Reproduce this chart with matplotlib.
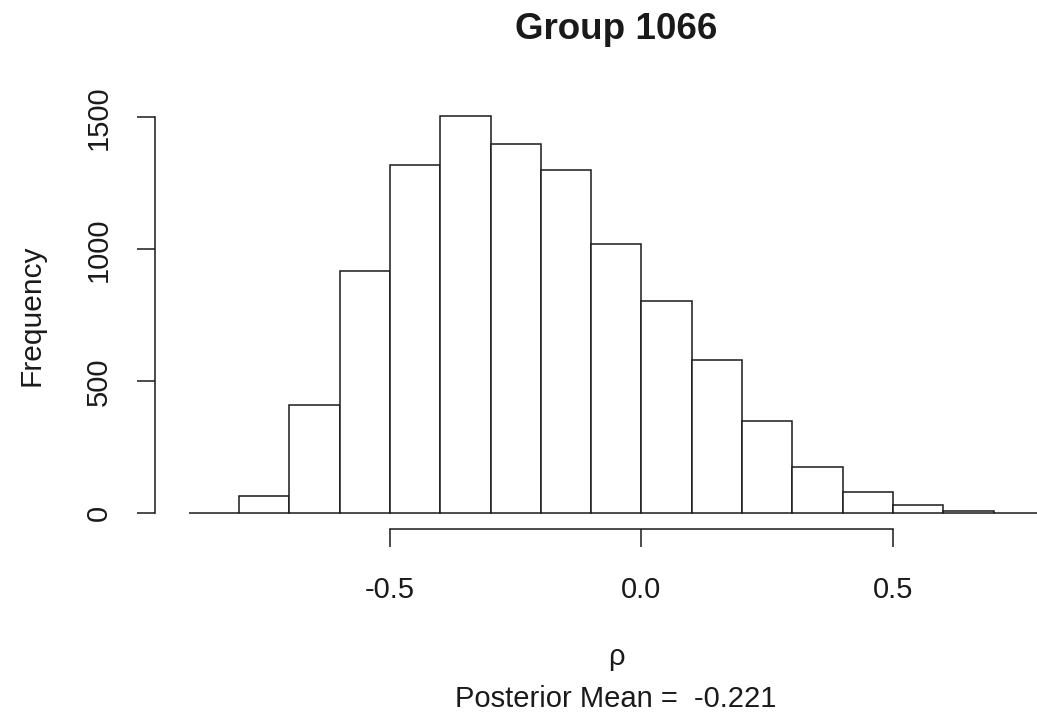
"""Posterior histogram of rho for a single group, drawn in base-R style."""
import matplotlib
matplotlib.use("Agg")
import matplotlib.pyplot as plt
import numpy as np

# bin edges and counts of the posterior draws
breaks = [-0.9, -0.8, -0.7, -0.6, -0.5, -0.4, -0.3, -0.2, -0.1, 0.0,
          0.1, 0.2, 0.3, 0.4, 0.5, 0.6, 0.7, 0.8]
counts = [2, 67, 412, 920, 1321, 1506, 1400, 1301, 1021, 805,
          582, 350, 177, 81, 30, 9, 3]
x_ticks = [-0.5, 0.0, 0.5]
x_tick_labels = ["-0.5", "0.0", "0.5"]
y_ticks = [0, 500, 1000, 1500]
y_tick_labels = ["0", "500", "1000", "1500"]
group_id = 1066
posterior_mean = -0.221

W, H = 1037, 714
plt.rcParams["font.family"] = ["Liberation Sans", "DejaVu Sans"]
ink = "#1a1a1a"

fig = plt.figure(figsize=(W / 100, H / 100), dpi=100)
fig.patch.set_facecolor("white")

# plot region in pixels (R's region runs past the right edge of the file)
left_px, right_px, top_px, bottom_px = 154.6, 1078.1, 100.0, 529.2
ax = fig.add_axes([left_px / W, 1 - bottom_px / H,
                   (right_px - left_px) / W, (bottom_px - top_px) / H])

edges = np.array(breaks)
vals = np.array(counts)
ax.bar(edges[:-1], vals, width=np.diff(edges), align="edge",
       color="white", edgecolor=ink, linewidth=1.1)

# R pads both ranges by 4%
span = edges[-1] - edges[0]
ax.set_xlim(edges[0] - 0.04 * span, edges[-1] + 0.04 * span)
ax.set_ylim(-0.04 * vals.max(), vals.max() * 1.04)

for side in ("top", "right"):
    ax.spines[side].set_visible(False)
ax.spines["left"].set_bounds(y_ticks[0], y_ticks[-1])
ax.spines["bottom"].set_bounds(x_ticks[0], x_ticks[-1])
for side in ("left", "bottom"):
    ax.spines[side].set_color(ink)
    ax.spines[side].set_linewidth(1.1)

ax.set_xticks(x_ticks, x_tick_labels)
ax.set_yticks(y_ticks, y_tick_labels)
ax.tick_params(axis="both", length=13, width=1.1, color=ink,
               labelsize=21, labelcolor=ink)
ax.tick_params(axis="x", pad=20.5)
ax.tick_params(axis="y", pad=17)
plt.setp(ax.get_yticklabels(), rotation=90, va="center")

ax.set_title(f"Group {group_id}", fontsize=26.5, fontweight="bold",
             color=ink, pad=44)

fig.text(17 / W, 1 - 315 / H, "Frequency", rotation=90, ha="left",
         va="center", fontsize=21.5, color=ink)
fig.text(616 / W, 1 - 665 / H, "ρ", ha="center", va="baseline",
         fontsize=21, color=ink)
fig.text(616 / W, 1 - 707 / H, f"Posterior Mean =  {posterior_mean}",
         ha="center", va="baseline", fontsize=21, color=ink)

fig.savefig("out.png", dpi=100, facecolor="white")
